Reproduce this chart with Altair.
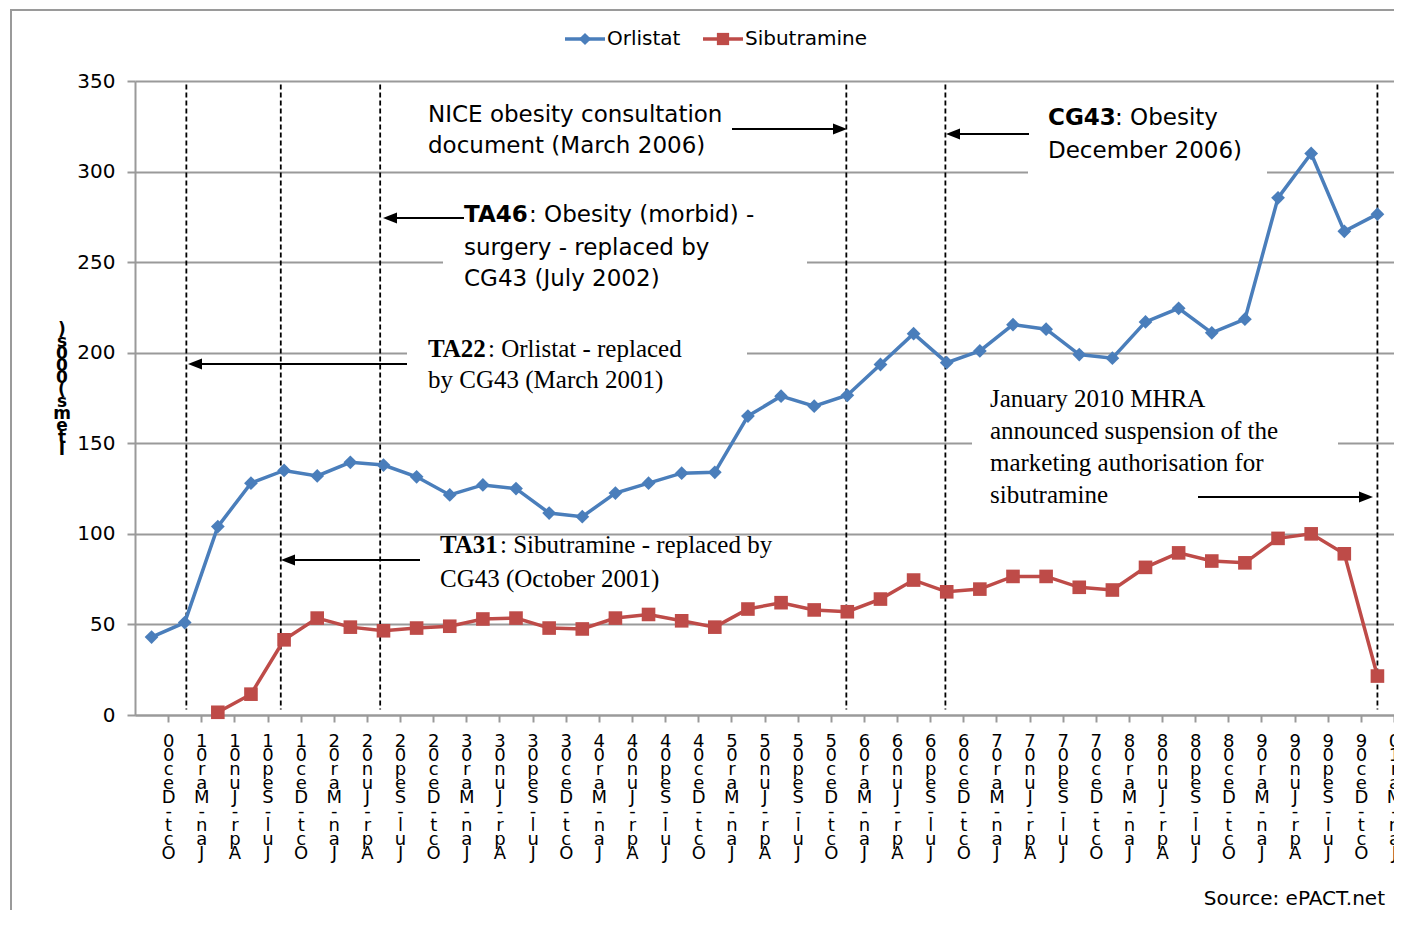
import json
import altair as alt
import pandas as pd

# ---------------- data ----------------
QUARTERS = [
    "Oct-Dec 00",
    "Jan-Mar 01", "Apr-Jun 01", "Jul-Sep 01", "Oct-Dec 01",
    "Jan-Mar 02", "Apr-Jun 02", "Jul-Sep 02", "Oct-Dec 02",
    "Jan-Mar 03", "Apr-Jun 03", "Jul-Sep 03", "Oct-Dec 03",
    "Jan-Mar 04", "Apr-Jun 04", "Jul-Sep 04", "Oct-Dec 04",
    "Jan-Mar 05", "Apr-Jun 05", "Jul-Sep 05", "Oct-Dec 05",
    "Jan-Mar 06", "Apr-Jun 06", "Jul-Sep 06", "Oct-Dec 06",
    "Jan-Mar 07", "Apr-Jun 07", "Jul-Sep 07", "Oct-Dec 07",
    "Jan-Mar 08", "Apr-Jun 08", "Jul-Sep 08", "Oct-Dec 08",
    "Jan-Mar 09", "Apr-Jun 09", "Jul-Sep 09", "Oct-Dec 09",
    "Jan-Mar 10",
]
ORLISTAT = [43, 51, 104, 128, 135, 132, 139.5, 138, 131.5, 121.5, 127, 125,
            111.5, 109.5, 122.5, 128, 133.5, 134, 165, 176, 170.5, 176.5,
            193.5, 210.5, 194.5, 201, 215.5, 213, 199, 197, 217, 224.5, 211,
            218.5, 285.5, 310, 267, 276.5]
SIBUTRAMINE = [None, None, 1.5, 11.5, 41.5, 53.5, 48.5, 46.5, 48, 49, 53, 53.5,
               48, 47.5, 53.5, 55.5, 52, 48.5, 58.5, 62, 58, 57, 64, 74.5, 68,
               69.5, 76.5, 76.5, 70.5, 69, 81.5, 89.5, 85, 84, 97.5, 100, 89, 21.5]
SERIES = ["Orlistat", "Sibutramine"]
COLORS = ["#4a7ebb", "#be4b48"]
SHAPES = ["diamond", "square"]
EVENT_POS = [1.05, 3.9, 6.9, 20.97, 23.96, 37.0]   # quarter positions of policy events
Y_TICKS = [0, 50, 100, 150, 200, 250, 300, 350]
Y_TITLE = "Items (000s)"
SOURCE = "Source: ePACT.net"

rows = []
for s, vals in zip(SERIES, [ORLISTAT, SIBUTRAMINE]):
    for i, q in enumerate(QUARTERS):
        if vals[i] is not None:
            rows.append({"quarter": q, "pos": i, "series": s, "value": vals[i]})
df = pd.DataFrame(rows)
events = pd.DataFrame({"pos": EVENT_POS})

# ---------------- layout ----------------
W, H = 1259, 634
GRID = "#9a9a9a"
SANS = "DejaVu Sans"
SERIF = "Liberation Serif"
ONE = alt.Data(values=[{"k": 0}])

xscale = alt.Scale(domain=[-0.5, len(QUARTERS) - 0.5], nice=False, zero=False)
yscale = alt.Scale(domain=[0, 350], nice=False)

label_expr = ("reverse(split(replace(" + json.dumps(QUARTERS) +
              "[round(datum.value - 0.5)], ' ', ''), ''))")

xaxis = alt.Axis(values=[i + 0.5 for i in range(len(QUARTERS))], labelExpr=label_expr,
                 labelAngle=0, labelAlign="center", labelBaseline="top",
                 labelLineHeight=14, labelFontSize=18, labelFont=SANS, labelColor="black",
                 labelOverlap=False, labelFlush=False, labelPadding=10,
                 tickSize=7, tickColor=GRID, tickWidth=2, domainColor=GRID, domainWidth=2,
                 grid=False, title=None)
yaxis = alt.Axis(values=Y_TICKS, grid=True, gridColor=GRID, gridWidth=2,
                 domainColor=GRID, domainWidth=2, tickSize=8, tickColor=GRID, tickWidth=2,
                 labelFont=SANS, labelFontSize=20, labelColor="black", labelPadding=12,
                 title=None)

X = alt.X("pos:Q", scale=xscale, axis=xaxis)
Y = alt.Y("value:Q", scale=yscale, axis=yaxis)

layers = []

# outer chart border
layers.append(alt.Chart(ONE).mark_rect(fillOpacity=0, stroke=GRID, strokeWidth=2).encode(
    x=alt.value(-124), x2=alt.value(1420), y=alt.value(-71), y2=alt.value(900)))

# white text boxes that hide gridlines
for (x1, x2, y1, y2) in [(308, 672, 100, 219), (272, 612, 249, 317),
                         (893, 1132, 14, 104), (837, 1203, 299, 431)]:
    layers.append(alt.Chart(ONE).mark_rect(fill="white").encode(
        x=alt.value(x1), x2=alt.value(x2), y=alt.value(y1), y2=alt.value(y2)))

# dashed event lines
layers.append(alt.Chart(events).mark_rule(strokeDash=[5, 3], strokeWidth=1.8, color="black").encode(
    x=alt.X("pos:Q", scale=xscale, axis=xaxis),
    y=alt.Y(datum=348, scale=yscale, axis=yaxis), y2=alt.Y2(datum=3)))

# series
sizes = [190, 185]
for s, c, sh, sz in zip(SERIES, COLORS, SHAPES, sizes):
    base = alt.Chart(df).transform_filter(alt.datum.series == s)
    layers.append(base.mark_line(color=c, strokeWidth=3.5).encode(x=X, y=Y))
    layers.append(base.mark_point(color=c, filled=True, opacity=1, shape=sh, size=sz).encode(x=X, y=Y))

# annotations
def txt(x, y, text, font=SANS, size=23, weight="normal", lh=31):
    return alt.Chart(ONE).mark_text(font=font, fontSize=size, fontWeight=weight, align="left",
                                     baseline="alphabetic", lineHeight=lh, color="black").encode(
        x=alt.value(x), y=alt.value(y), text=alt.value(text))

layers += [
    txt(293, 41, ["NICE obesity consultation", "document (March 2006)"]),
    txt(329, 141, "TA46", weight="bold"),
    txt(329 + 65, 141, ": Obesity (morbid) -"),
    txt(329, 174, ["surgery - replaced by", "CG43 (July 2002)"]),
    txt(913, 44, "CG43", weight="bold"),
    txt(913 + 67, 44, ": Obesity"),
    txt(913, 77, "December 2006)"),
    txt(293, 276, "TA22", font=SERIF, size=25, weight="bold"),
    txt(293 + 60, 276, ": Orlistat - replaced", font=SERIF, size=25),
    txt(293, 307, "by CG43 (March 2001)", font=SERIF, size=25),
    txt(305, 472, "TA31", font=SERIF, size=25, weight="bold"),
    txt(305 + 60, 472, ": Sibutramine - replaced by", font=SERIF, size=25),
    txt(305, 506, "CG43 (October 2001)", font=SERIF, size=25),
    txt(855, 326, ["January 2010 MHRA", "announced  suspension of the",
                   "marketing authorisation for", "sibutramine"], font=SERIF, size=25, lh=32),
]

RIGHT_HEAD = "M-1,-0.8L1,0L-1,0.8Z"
LEFT_HEAD = "M1,-0.8L-1,0L1,0.8Z"
def arrow(x_from, x_tip, y):
    head = RIGHT_HEAD if x_tip > x_from else LEFT_HEAD
    cx = x_tip - 7 if x_tip > x_from else x_tip + 7
    return [
        alt.Chart(ONE).mark_rule(color="black", strokeWidth=2).encode(
            x=alt.value(x_from), x2=alt.value(cx), y=alt.value(y)),
        alt.Chart(ONE).mark_point(shape=head, filled=True, color="black", opacity=1, size=196).encode(
            x=alt.value(cx), y=alt.value(y)),
    ]

layers += arrow(597, 712, 48)
layers += arrow(329, 248, 137)
layers += arrow(894, 811, 53)
layers += arrow(272, 53, 283)
layers += arrow(285, 146, 479)
layers += arrow(1063, 1238, 416)

# legend
for s, c, sh, sz, lx in zip(SERIES, COLORS, SHAPES, [150, 150], [430, 568]):
    layers.append(alt.Chart(ONE).mark_rule(color=c, strokeWidth=3.5).encode(
        x=alt.value(lx), x2=alt.value(lx + 40), y=alt.value(-42)))
    layers.append(alt.Chart(ONE).mark_point(color=c, filled=True, opacity=1, shape=sh, size=sz).encode(
        x=alt.value(lx + 20), y=alt.value(-42)))
    layers.append(alt.Chart(ONE).mark_text(font=SANS, fontSize=20, align="left", baseline="middle",
                                            color="black").encode(
        x=alt.value(lx + 42), y=alt.value(-42), text=alt.value(s)))

# y title (stacked characters)
layers.append(alt.Chart(ONE).mark_text(font=SANS, fontSize=17, fontWeight="bold", align="center",
                                        baseline="top", lineHeight=12, color="black").encode(
    x=alt.value(-73), y=alt.value(241), text=alt.value(list(reversed(Y_TITLE)))))

# source
layers.append(alt.Chart(ONE).mark_text(font=SANS, fontSize=20, align="right", baseline="middle",
                                        color="black").encode(
    x=alt.value(1250), y=alt.value(818), text=alt.value(SOURCE)))

chart = alt.layer(*layers).properties(
    width=W, height=H,
    padding={"left": 127, "top": 73, "right": 0, "bottom": 195},
    autosize=alt.AutoSizeParams(type="none"),
).configure_view(strokeWidth=0)

chart.save("out.html", embed_options={"renderer": "svg", "actions": False})
